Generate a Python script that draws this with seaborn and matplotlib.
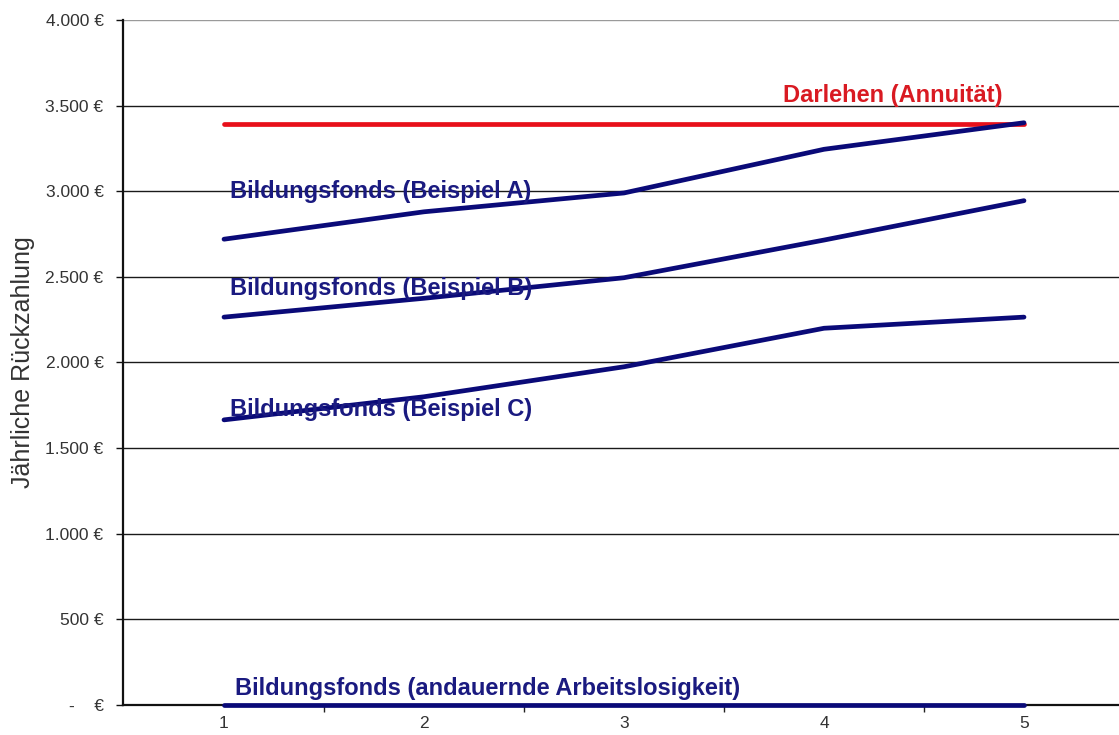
import matplotlib
matplotlib.use("Agg")
import matplotlib.pyplot as plt
import seaborn as sns
import pandas as pd
from matplotlib.ticker import FuncFormatter, FixedLocator

# ---- data ----
years = [1, 2, 3, 4, 5]
darlehen = [3390, 3390, 3390, 3390, 3390]
beispiel_a = [2720, 2880, 2990, 3245, 3400]
beispiel_b = [2265, 2375, 2495, 2715, 2945]
beispiel_c = [1665, 1800, 1975, 2200, 2265]
arbeitslos = [0, 0, 0, 0, 0]

series_names = [
    "Darlehen (Annuität)",
    "Bildungsfonds (Beispiel A)",
    "Bildungsfonds (Beispiel B)",
    "Bildungsfonds (Beispiel C)",
    "Bildungsfonds (andauernde Arbeitslosigkeit)",
]
series_values = [darlehen, beispiel_a, beispiel_b, beispiel_c, arbeitslos]
y_ticks = [0, 500, 1000, 1500, 2000, 2500, 3000, 3500, 4000]
y_label = "Jährliche Rückzahlung"

# ---- styling ----
sns.set_theme(style="white")
plt.rcParams["font.family"] = ["Liberation Sans", "DejaVu Sans"]

NAVY = "#0a0a78"
RED = "#e8101a"
TEXT_NAVY = "#1a1a80"
TEXT_RED = "#d91a22"
palette = {series_names[0]: RED}
for n in series_names[1:]:
    palette[n] = NAVY

rows = []
for name, vals in zip(series_names, series_values):
    for x, v in zip(years, vals):
        rows.append({"Jahr": x, "Wert": v, "Serie": name})
df = pd.DataFrame(rows)

W, H = 1119, 735
fig = plt.figure(figsize=(W / 100, H / 100), dpi=100)
fig.patch.set_facecolor("white")
left_px, right_px, top_px, bottom_px = 123, 1119, 20, 705
ax = fig.add_axes([left_px / W, (H - bottom_px) / H,
                   (right_px - left_px) / W, (bottom_px - top_px) / H])

# gridlines (drawn below lines)
for v in y_ticks[1:-1]:
    ax.axhline(v, color="#1a1a1a", lw=1.0, zorder=1)
ax.axhline(y_ticks[-1], color="#9a9a9a", lw=1.0, zorder=1)

sns.lineplot(data=df, x="Jahr", y="Wert", hue="Serie", palette=palette,
             linewidth=3.4, legend=False, ax=ax, zorder=3, clip_on=False)
for line in ax.get_lines():
    if line.get_color() == RED:
        line.set_zorder(2.5)

ax.set_xlim(0.495, 5.475)
ax.set_ylim(0, 4000)

ax.set_yticks(y_ticks)
def fmt(v, pos):
    if v == 0:
        return "-    €"
    return f"{v:,.0f} €".replace(",", ".")
ax.yaxis.set_major_formatter(FuncFormatter(fmt))
ax.tick_params(axis="y", direction="out", length=5, width=1, colors="#111111",
               labelcolor="#333333", labelsize=12.5, pad=9, left=True)

ax.set_xticks(years)
ax.set_xticklabels([str(y) for y in years])
ax.xaxis.set_minor_locator(FixedLocator([1.5, 2.5, 3.5, 4.5]))
ax.tick_params(axis="x", which="major", length=0, labelsize=12.5,
               labelcolor="#333333", pad=8)
ax.tick_params(axis="x", which="minor", direction="out", length=5, width=1,
               colors="#222222", bottom=True)

for s in ["top", "right"]:
    ax.spines[s].set_visible(False)
for s in ["left", "bottom"]:
    ax.spines[s].set_color("#111111")
    ax.spines[s].set_linewidth(1.6)

ax.set_xlabel("")
ax.set_ylabel(y_label, fontsize=18, color="#333333")
ax.yaxis.set_label_coords(-0.088, 0.5)

# series labels
label_pos = [(3.795, 3562), (1.03, 3000), (1.03, 2435), (1.03, 1723), (1.055, 99)]
for name, (x, y) in zip(series_names, label_pos):
    ax.text(x, y, name, fontsize=17, fontweight="bold",
            color=TEXT_RED if name.startswith("Darlehen") else TEXT_NAVY,
            ha="left", va="center", zorder=4)

fig.savefig("out.png", dpi=100, facecolor="white")
